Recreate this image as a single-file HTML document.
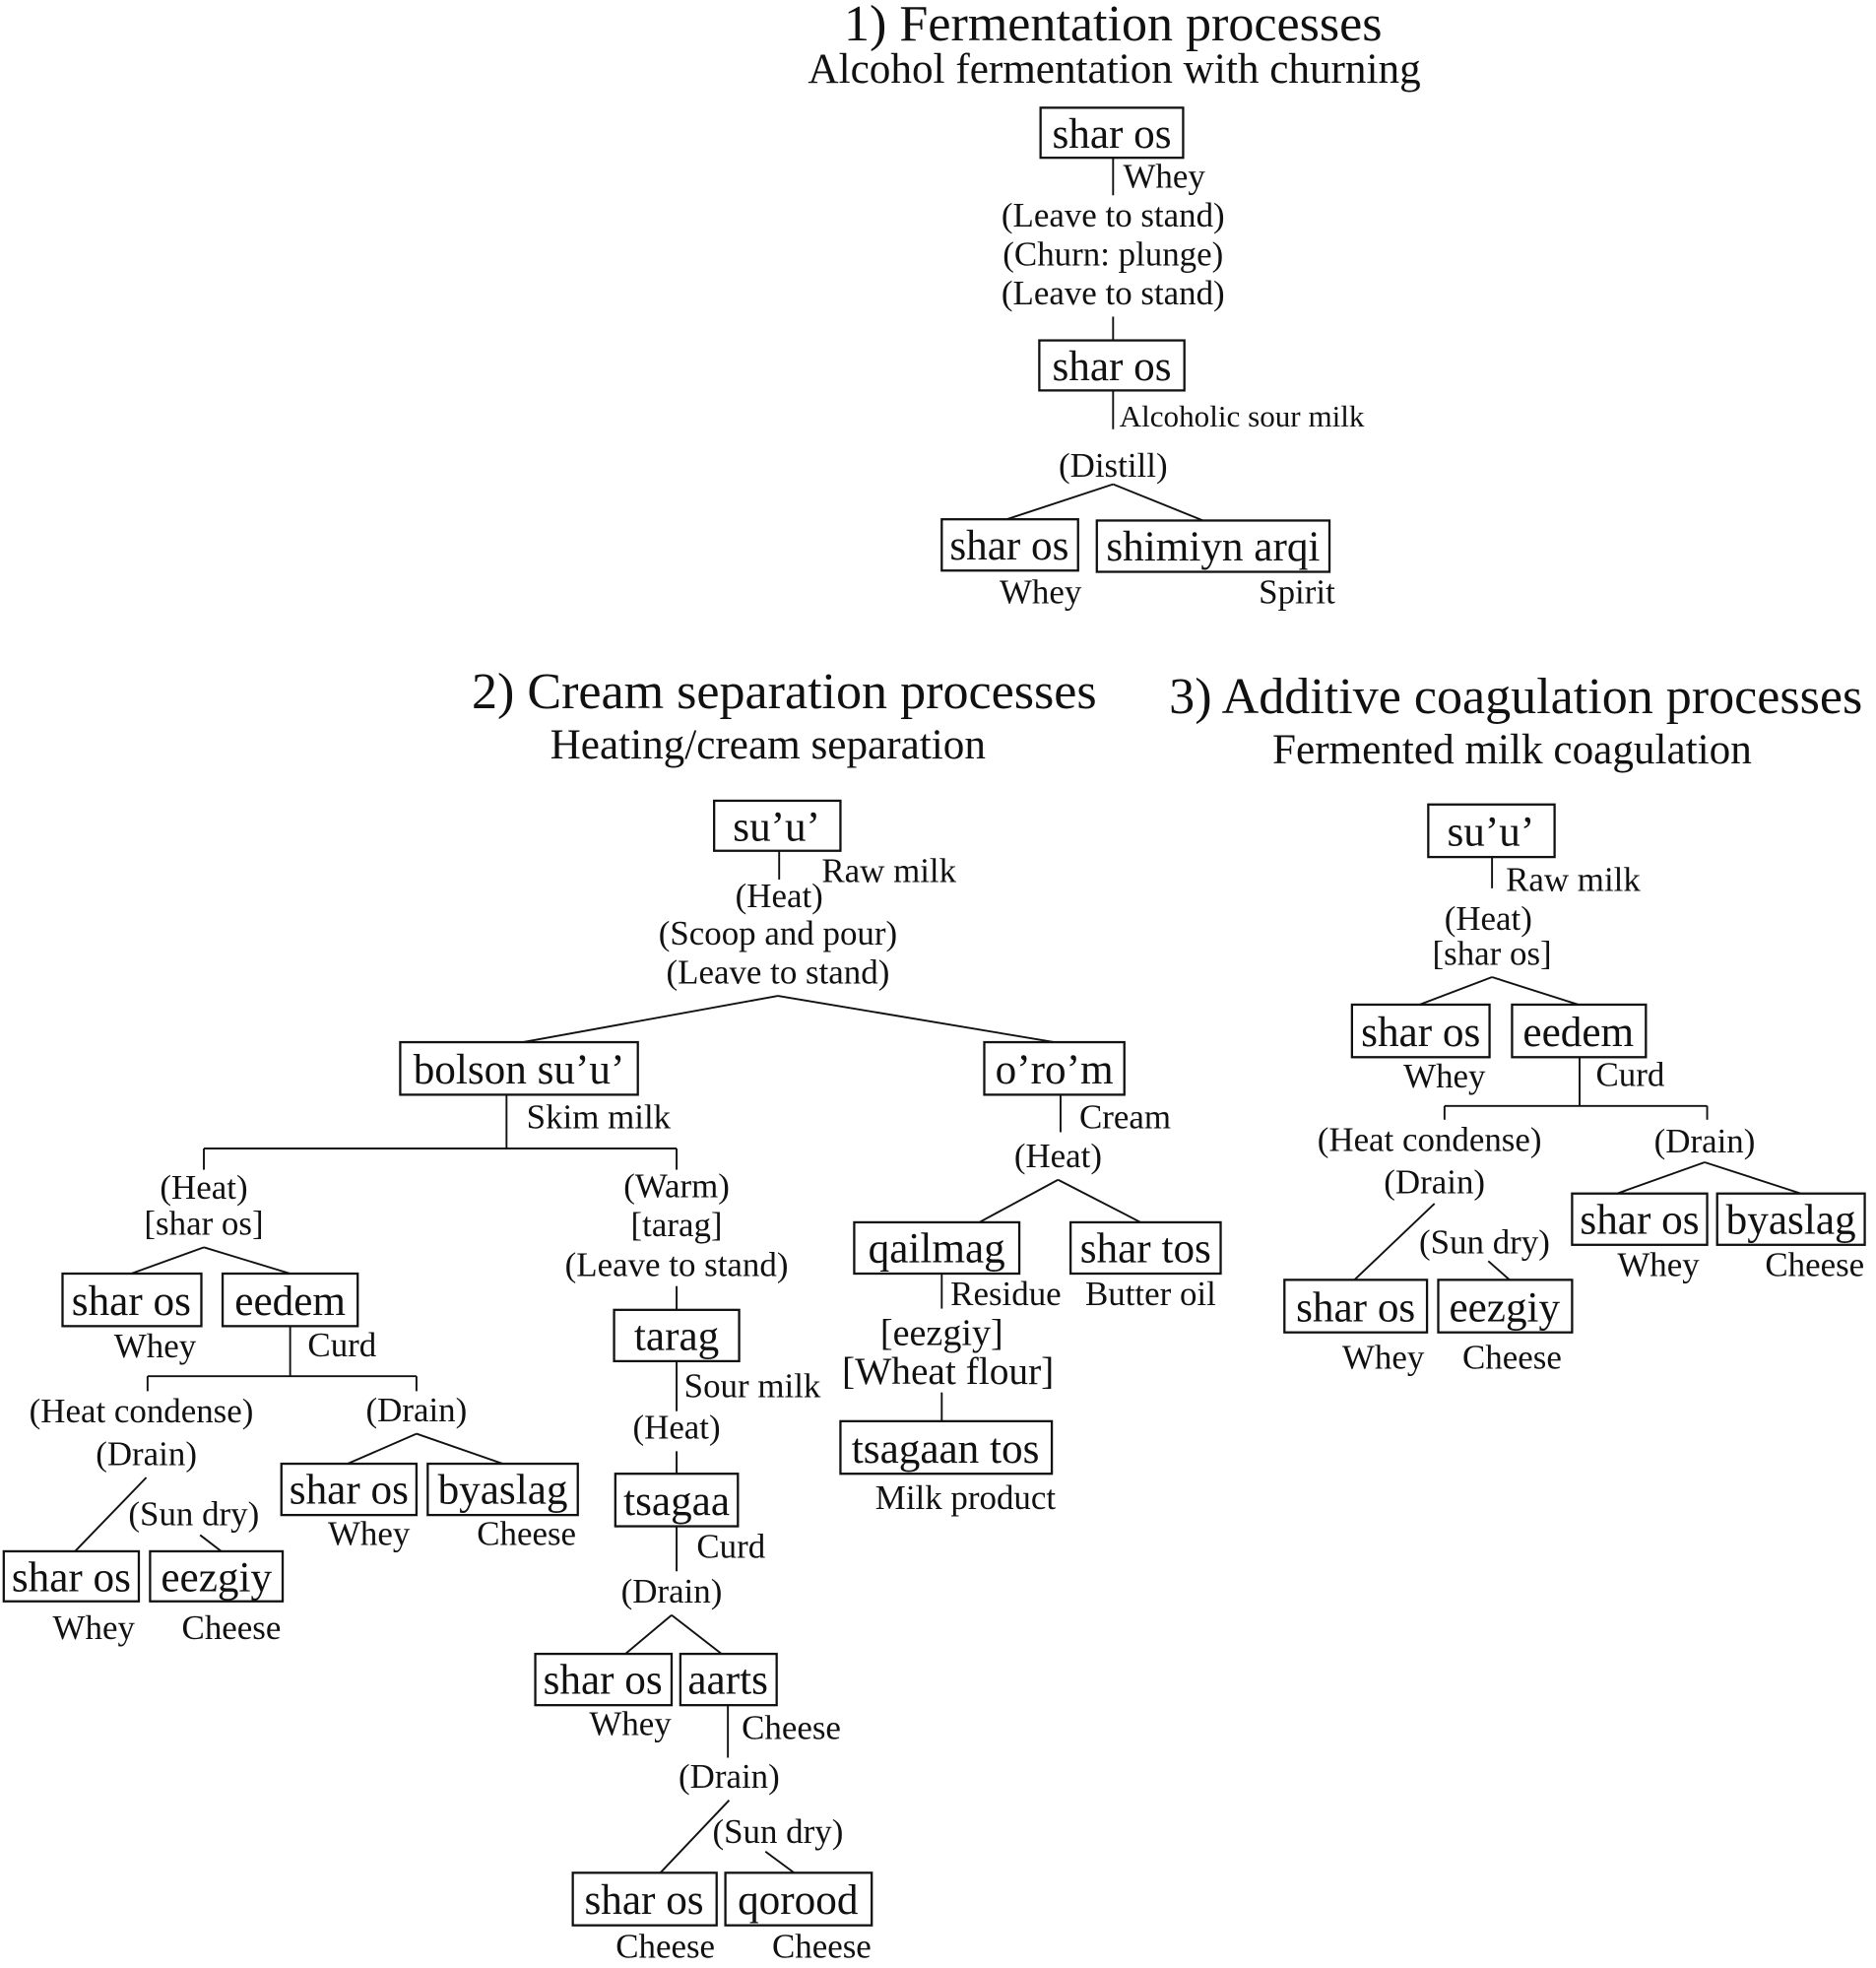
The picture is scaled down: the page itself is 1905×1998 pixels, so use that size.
<!DOCTYPE html>
<html><head><meta charset="utf-8"><style>
html,body{margin:0;padding:0;background:#fff;}
svg{display:block;}
text{font-family:"Liberation Serif",serif;fill:#111;}
.t{font-size:41px;text-anchor:middle;}
.s{font-size:34px;text-anchor:middle;}
.b{font-size:34px;text-anchor:middle;}
.l{font-size:27.5px;text-anchor:middle;}
.ls{font-size:27.5px;text-anchor:start;}
rect{fill:none;stroke:#111;stroke-width:1.8;}
line{stroke:#111;stroke-width:1.5;}
</style></head><body>
<svg width="1905" height="1998" viewBox="0 0 1500 1573" xmlns="http://www.w3.org/2000/svg">
<!-- Section 1 -->
<text class="t" x="890" y="32">1) Fermentation processes</text>
<text class="s" x="891" y="66">Alcohol fermentation with churning</text>
<rect x="832" y="86" width="114" height="40"/><text class="b" x="889" y="118">shar os</text>
<line x1="890" y1="126" x2="890" y2="156"/><text class="ls" x="898" y="150">Whey</text>
<text class="l" x="890" y="181">(Leave to stand)</text>
<text class="l" x="890" y="212">(Churn: plunge)</text>
<text class="l" x="890" y="243">(Leave to stand)</text>
<line x1="890" y1="253" x2="890" y2="272"/>
<rect x="831" y="272" width="116" height="40"/><text class="b" x="889" y="304">shar os</text>
<line x1="890" y1="312" x2="890" y2="343"/><text class="ls" x="895" y="341" style="font-size:24.5px">Alcoholic sour milk</text>
<text class="l" x="890" y="381">(Distill)</text>
<line x1="890" y1="387" x2="805" y2="415"/><line x1="890" y1="387" x2="962" y2="416"/>
<rect x="753" y="415" width="109" height="41"/><text class="b" x="807" y="447">shar os</text>
<rect x="877" y="416" width="186" height="41"/><text class="b" x="970" y="448">shimiyn arqi</text>
<text class="l" x="832" y="482">Whey</text><text class="l" x="1037" y="482">Spirit</text>

<!-- Section 2 -->
<text class="t" x="627" y="566">2) Cream separation processes</text>
<text class="s" x="614" y="606">Heating/cream separation</text>
<rect x="571" y="640" width="101" height="40"/><text class="b" x="621" y="672">su’u’</text>
<line x1="623" y1="680" x2="623" y2="703"/><text class="ls" x="657" y="705">Raw milk</text>
<text class="l" x="623" y="725">(Heat)</text>
<text class="l" x="622" y="755">(Scoop and pour)</text>
<text class="l" x="622" y="786">(Leave to stand)</text>
<line x1="622" y1="796" x2="418" y2="833"/><line x1="622" y1="796" x2="843" y2="833"/>
<rect x="320" y="833" width="190" height="42"/><text class="b" x="415" y="866">bolson su’u’</text>
<rect x="787" y="833" width="112" height="42"/><text class="b" x="843" y="866">o’ro’m</text>
<line x1="405" y1="875" x2="405" y2="918"/><text class="ls" x="421" y="902">Skim milk</text>
<line x1="163" y1="918" x2="541" y2="918"/><line x1="163" y1="918" x2="163" y2="935"/><line x1="541" y1="918" x2="541" y2="935"/>
<text class="l" x="163" y="958">(Heat)</text><text class="l" x="163" y="987">[shar os]</text>
<line x1="163" y1="997" x2="105" y2="1018"/><line x1="163" y1="997" x2="232" y2="1018"/>
<rect x="50" y="1018" width="111" height="42"/><text class="b" x="105" y="1051">shar os</text>
<rect x="178" y="1018" width="108" height="42"/><text class="b" x="232" y="1051">eedem</text>
<text class="l" x="124" y="1085">Whey</text>
<line x1="232" y1="1060" x2="232" y2="1100"/><text class="ls" x="246" y="1084">Curd</text>
<line x1="118" y1="1100" x2="333" y2="1100"/><line x1="118" y1="1100" x2="118" y2="1112"/><line x1="333" y1="1100" x2="333" y2="1112"/>
<text class="l" x="113" y="1137">(Heat condense)</text><text class="l" x="117" y="1171">(Drain)</text>
<line x1="117" y1="1181" x2="60" y2="1240"/>
<text class="l" x="155" y="1219">(Sun dry)</text><line x1="160" y1="1227" x2="177" y2="1240"/>
<rect x="3" y="1240" width="108" height="40"/><text class="b" x="57" y="1272">shar os</text>
<rect x="120" y="1240" width="106" height="40"/><text class="b" x="173" y="1272">eezgiy</text>
<text class="l" x="75" y="1310">Whey</text><text class="l" x="185" y="1310">Cheese</text>
<text class="l" x="333" y="1136">(Drain)</text>
<line x1="333" y1="1146" x2="278" y2="1170"/><line x1="333" y1="1146" x2="402" y2="1170"/>
<rect x="225" y="1170" width="108" height="41"/><text class="b" x="279" y="1202">shar os</text>
<rect x="342" y="1170" width="120" height="41"/><text class="b" x="402" y="1202">byaslag</text>
<text class="l" x="295" y="1235">Whey</text><text class="l" x="421" y="1235">Cheese</text>

<text class="l" x="541" y="957">(Warm)</text><text class="l" x="541" y="988">[tarag]</text><text class="l" x="541" y="1020">(Leave to stand)</text>
<line x1="541" y1="1028" x2="541" y2="1047"/>
<rect x="491" y="1047" width="100" height="41"/><text class="b" x="541" y="1079">tarag</text>
<line x1="541" y1="1088" x2="541" y2="1128"/><text class="ls" x="547" y="1117">Sour milk</text>
<text class="l" x="541" y="1150">(Heat)</text>
<line x1="541" y1="1160" x2="541" y2="1178"/>
<rect x="492" y="1178" width="98" height="42"/><text class="b" x="541" y="1211">tsagaa</text>
<line x1="541" y1="1220" x2="541" y2="1256"/><text class="ls" x="557" y="1245">Curd</text>
<text class="l" x="537" y="1281">(Drain)</text>
<line x1="537" y1="1291" x2="500" y2="1322"/><line x1="537" y1="1291" x2="577" y2="1322"/>
<rect x="428" y="1322" width="109" height="41"/><text class="b" x="482" y="1354">shar os</text>
<rect x="544" y="1322" width="77" height="41"/><text class="b" x="582" y="1354">aarts</text>
<text class="l" x="504" y="1387">Whey</text>
<line x1="582" y1="1363" x2="582" y2="1405"/><text class="ls" x="593" y="1390">Cheese</text>
<text class="l" x="583" y="1429">(Drain)</text>
<line x1="583" y1="1439" x2="528" y2="1497"/>
<text class="l" x="622" y="1473">(Sun dry)</text><line x1="612" y1="1480" x2="635" y2="1497"/>
<rect x="458" y="1497" width="115" height="42"/><text class="b" x="515" y="1530">shar os</text>
<rect x="580" y="1497" width="117" height="42"/><text class="b" x="638" y="1530">qorood</text>
<text class="l" x="532" y="1565">Cheese</text><text class="l" x="657" y="1565">Cheese</text>

<line x1="848" y1="875" x2="848" y2="905"/><text class="ls" x="863" y="902">Cream</text>
<text class="l" x="846" y="933">(Heat)</text>
<line x1="846" y1="943" x2="783" y2="977"/><line x1="846" y1="943" x2="912" y2="977"/>
<rect x="683" y="977" width="132" height="41"/><text class="b" x="749" y="1009">qailmag</text>
<rect x="856" y="977" width="120" height="41"/><text class="b" x="916" y="1009">shar tos</text>
<line x1="753" y1="1018" x2="753" y2="1046"/><text class="ls" x="760" y="1043">Residue</text>
<text class="l" x="920" y="1043">Butter oil</text>
<text class="l" x="753" y="1075" style="font-size:30px">[eezgiy]</text>
<text class="l" x="758" y="1106" style="font-size:31px">[Wheat flour]</text>
<line x1="753" y1="1113" x2="753" y2="1136"/>
<rect x="672" y="1136" width="169" height="42"/><text class="b" x="756" y="1169">tsagaan tos</text>
<text class="l" x="772" y="1206">Milk product</text>

<!-- Section 3 -->
<text class="t" x="1212" y="570">3) Additive coagulation processes</text>
<text class="s" x="1209" y="610">Fermented milk coagulation</text>
<rect x="1142" y="643" width="101" height="42"/><text class="b" x="1192" y="676">su’u’</text>
<line x1="1193" y1="685" x2="1193" y2="710"/><text class="ls" x="1204" y="712">Raw milk</text>
<text class="l" x="1190" y="743">(Heat)</text><text class="l" x="1193" y="771">[shar os]</text>
<line x1="1193" y1="781" x2="1135" y2="803"/><line x1="1193" y1="781" x2="1262" y2="803"/>
<rect x="1081" y="803" width="110" height="42"/><text class="b" x="1136" y="836">shar os</text>
<rect x="1209" y="803" width="107" height="42"/><text class="b" x="1262" y="836">eedem</text>
<text class="l" x="1155" y="869">Whey</text>
<line x1="1263" y1="845" x2="1263" y2="884"/><text class="ls" x="1276" y="868">Curd</text>
<line x1="1155" y1="884" x2="1365" y2="884"/><line x1="1155" y1="884" x2="1155" y2="895"/><line x1="1365" y1="884" x2="1365" y2="895"/>
<text class="l" x="1143" y="920">(Heat condense)</text><text class="l" x="1147" y="954">(Drain)</text>
<line x1="1147" y1="962" x2="1083" y2="1023"/>
<text class="l" x="1187" y="1002">(Sun dry)</text><line x1="1190" y1="1008" x2="1207" y2="1023"/>
<rect x="1027" y="1023" width="114" height="42"/><text class="b" x="1084" y="1056">shar os</text>
<rect x="1150" y="1023" width="107" height="42"/><text class="b" x="1203" y="1056">eezgiy</text>
<text class="l" x="1106" y="1094">Whey</text><text class="l" x="1209" y="1094">Cheese</text>
<text class="l" x="1363" y="921">(Drain)</text>
<line x1="1363" y1="929" x2="1293" y2="954"/><line x1="1363" y1="929" x2="1440" y2="954"/>
<rect x="1257" y="954" width="108" height="41"/><text class="b" x="1311" y="986">shar os</text>
<rect x="1373" y="954" width="118" height="41"/><text class="b" x="1432" y="986">byaslag</text>
<text class="l" x="1326" y="1020">Whey</text><text class="l" x="1451" y="1020">Cheese</text>
</svg>
</body></html>
